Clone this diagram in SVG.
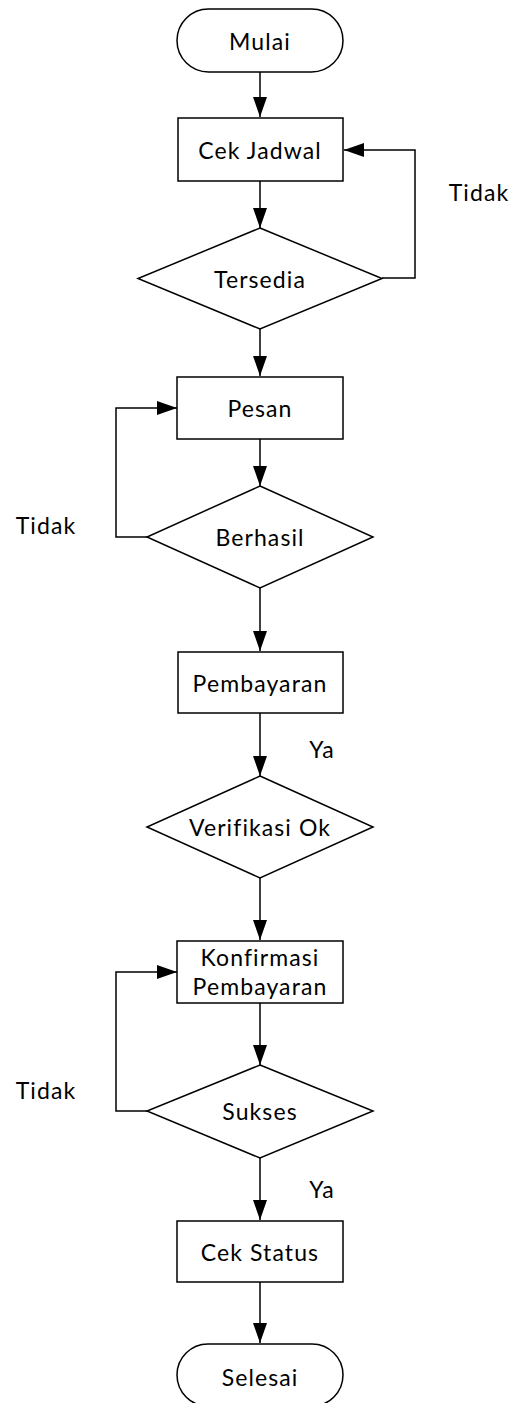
<svg xmlns="http://www.w3.org/2000/svg" width="512" height="1403" viewBox="0 0 512 1403">
<style>
.s{fill:#fff;stroke:#000;stroke-width:1.5}
.c{fill:none;stroke:#000;stroke-width:1.5}
text{font-family:Lato,"Liberation Sans",sans-serif;font-size:23px;letter-spacing:1.1px;fill:#000;text-anchor:middle;dominant-baseline:central}
</style>
<defs>
<marker id="a" viewBox="0 0 20 14" refX="20" refY="7" markerWidth="20" markerHeight="14" markerUnits="userSpaceOnUse" orient="auto">
<path d="M0,0 L20,7 L0,14 Z" fill="#000"/>
</marker>
</defs>
<rect width="512" height="1403" fill="#fff"/>
<g id="connectors">
<path class="c" d="M260,72 V117" marker-end="url(#a)"/>
<path class="c" d="M260,181 V228" marker-end="url(#a)"/>
<path class="c" d="M382,278 H415 V150 H344" marker-end="url(#a)"/>
<path class="c" d="M260,329 V376" marker-end="url(#a)"/>
<path class="c" d="M260,439 V486" marker-end="url(#a)"/>
<path class="c" d="M147,537 H116 V408 H177" marker-end="url(#a)"/>
<path class="c" d="M260,588 V651" marker-end="url(#a)"/>
<path class="c" d="M260,713 V776" marker-end="url(#a)"/>
<path class="c" d="M260,878 V940" marker-end="url(#a)"/>
<path class="c" d="M260,1003 V1065" marker-end="url(#a)"/>
<path class="c" d="M147,1111 H116 V972 H177" marker-end="url(#a)"/>
<path class="c" d="M260,1158 V1220" marker-end="url(#a)"/>
<path class="c" d="M260,1282 V1343" marker-end="url(#a)"/>
<text x="479" y="192">Tidak</text>
<text x="46" y="525">Tidak</text>
<text x="322" y="749">Ya</text>
<text x="46" y="1090">Tidak</text>
<text x="322" y="1189">Ya</text>
</g>
<g id="mulai"><rect class="s" x="177" y="9" width="166" height="63" rx="31.5"/><text x="260" y="41">Mulai</text></g>
<g id="cekjadwal"><rect class="s" x="178" y="118" width="165" height="63"/><text x="260" y="150">Cek Jadwal</text></g>
<g id="tersedia"><polygon class="s" points="260,228 382,278.5 260,329 138,278.5"/><text x="260" y="279">Tersedia</text></g>
<g id="pesan"><rect class="s" x="177" y="377" width="166" height="62"/><text x="260" y="408">Pesan</text></g>
<g id="berhasil"><polygon class="s" points="260,486 373,537 260,588 147,537"/><text x="260" y="537">Berhasil</text></g>
<g id="pembayaran"><rect class="s" x="178" y="652" width="165" height="61"/><text x="260" y="683">Pembayaran</text></g>
<g id="verifikasi"><polygon class="s" points="260,776 373,827 260,878 147,827"/><text x="260" y="827">Verifikasi Ok</text></g>
<g id="konfirmasi"><rect class="s" x="177" y="941" width="166" height="62"/><text x="260" y="957">Konfirmasi</text><text x="260" y="986">Pembayaran</text></g>
<g id="sukses"><polygon class="s" points="260,1065 373,1111 260,1158 147,1111"/><text x="260" y="1111">Sukses</text></g>
<g id="cekstatus"><rect class="s" x="177" y="1221" width="166" height="61"/><text x="260" y="1252">Cek Status</text></g>
<g id="selesai"><rect class="s" x="177" y="1344" width="166" height="62" rx="31"/><text x="260" y="1377">Selesai</text></g>
</svg>
